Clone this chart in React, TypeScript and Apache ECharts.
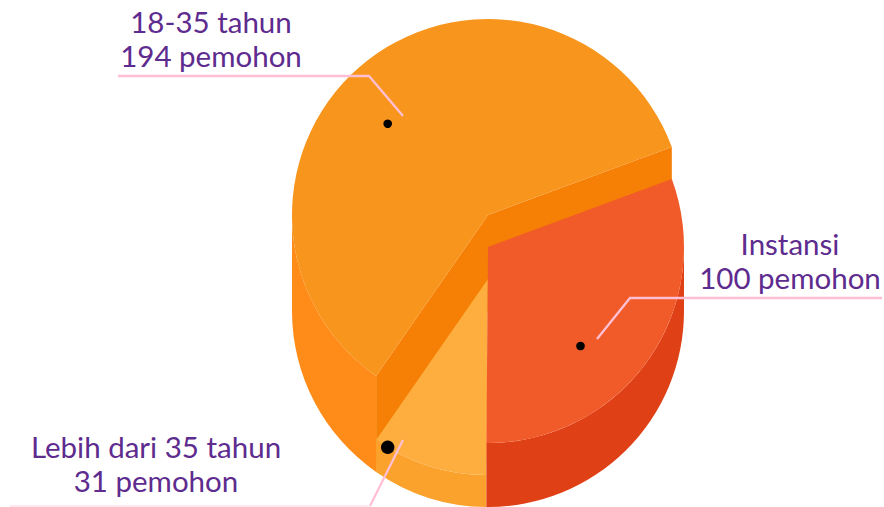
import React, { useEffect, useRef } from "react";
import * as echarts from "echarts";

const categories = ["18-35 tahun", "Lebih dari 35 tahun", "Instansi"];
const values = [194, 31, 100];
const unit = "pemohon";
const lifts = [0, 64, 32];
const depths = [96, 32, 64];
const topColors = ["#F8951D", "#FDAE3E", "#F15A29"];
const sideColors = ["#FF8C19", "#FAA22C", "#E04016"];
const wallColor = "#F58005";
const START_ANGLE = 20.3;
const CX = 488;
const TOP_Y = 215;
const R = 196;

const total = values.reduce((a, b) => a + b, 0);

function pt(cy: number, deg: number): [number, number] {
  const a = (deg * Math.PI) / 180;
  return [CX + R * Math.cos(a), cy - R * Math.sin(a)];
}

function sectorPath(cy: number, from: number, to: number) {
  const p0 = pt(cy, from);
  const p1 = pt(cy, to);
  const large = to - from > 180 ? 1 : 0;
  return `M${CX} ${cy}L${p0[0]} ${p0[1]}A${R} ${R} 0 ${large} 0 ${p1[0]} ${p1[1]}Z`;
}

function bandPath(cy: number, depth: number, from: number, to: number) {
  const a = pt(cy, from);
  const b = pt(cy, to);
  return `M${a[0]} ${a[1]}A${R} ${R} 0 0 0 ${b[0]} ${b[1]}L${b[0]} ${b[1] + depth}A${R} ${R} 0 0 1 ${a[0]} ${a[1] + depth}Z`;
}

function wallPath(cy: number, depth: number, deg: number) {
  const p = pt(cy, deg);
  return `M${CX} ${cy}L${p[0]} ${p[1]}L${p[0]} ${p[1] + depth}L${CX} ${cy + depth}Z`;
}

const angleRanges: [number, number][] = [];
{
  let acc = START_ANGLE;
  values.forEach((v) => {
    const sweep = (v / total) * 360;
    angleRanges.push([acc, acc + sweep]);
    acc += sweep;
  });
}

const renderSlice = (_params: any, api: any) => {
  const i = api.value(0);
  const [from, to] = angleRanges[i];
  const cy = TOP_Y + lifts[i];
  const depth = depths[i];
  const children: any[] = [];
  const lo = Math.max(from, 180);
  const hi = Math.min(to, 360);
  children.push({ type: "path", shape: { pathData: bandPath(cy, depth, lo, hi) }, style: { fill: sideColors[i] } });
  if (i === 0) {
    children.push({ type: "path", shape: { pathData: wallPath(cy, depth, from) }, style: { fill: wallColor } });
    children.push({ type: "path", shape: { pathData: wallPath(cy, depth, to) }, style: { fill: wallColor } });
  }
  children.push({ type: "path", shape: { pathData: sectorPath(cy, from, to) }, style: { fill: topColors[i] } });
  return { type: "group", children };
};

const labelFont = "Lato";
const labelColor = "#5E2B8E";
const pink = "#FFBFD3";

function label(x: number, y: number, text: string) {
  return {
    type: "text",
    x,
    y,
    style: { text, fill: labelColor, font: `29.5px ${labelFont}`, textAlign: "center", textVerticalAlign: "middle" },
    z: 10,
  };
}

function leader(points: number[][], color = pink) {
  return { type: "polyline", shape: { points }, style: { stroke: color, lineWidth: 2.3, fill: "none" }, z: 9 };
}

function dot(x: number, y: number, r: number) {
  return { type: "circle", shape: { cx: x, cy: y, r }, style: { fill: "#000000" }, z: 9 };
}

export default function App() {
  const ref = useRef<HTMLDivElement>(null);
  useEffect(() => {
    document.body.style.margin = "0";
    const chart = echarts.init(ref.current!, undefined, { renderer: "svg" });
    chart.setOption({
      animation: false,
      backgroundColor: "#ffffff",
      series: [
        {
          type: "custom",
          coordinateSystem: "none",
          renderItem: renderSlice,
          data: categories.map((name, i) => ({ name, value: [i, values[i]] })),
          silent: true,
        },
      ],
      graphic: [
        leader([[118, 76], [369, 76], [403, 116]]),
        leader([[882, 298], [630, 298], [597, 339]]),
        leader([[403, 440], [370, 506]]),
        leader([[10, 506], [370, 506]], "#FFE9F0"),
        dot(387.7, 123.7, 4.3),
        dot(580.5, 346, 4.3),
        dot(387.7, 447.3, 6.7),
        label(211, 21.5, categories[0]),
        label(211, 55.5, `${values[0]} ${unit}`),
        label(790, 243.5, categories[2]),
        label(790, 277.5, `${values[2]} ${unit}`),
        label(156, 446.5, categories[1]),
        label(156, 480.5, `${values[1]} ${unit}`),
      ],
    });
    return () => chart.dispose();
  }, []);
  return <div ref={ref} style={{ position: "absolute", left: 0, top: 0, width: 884, height: 507 }} />;
}
